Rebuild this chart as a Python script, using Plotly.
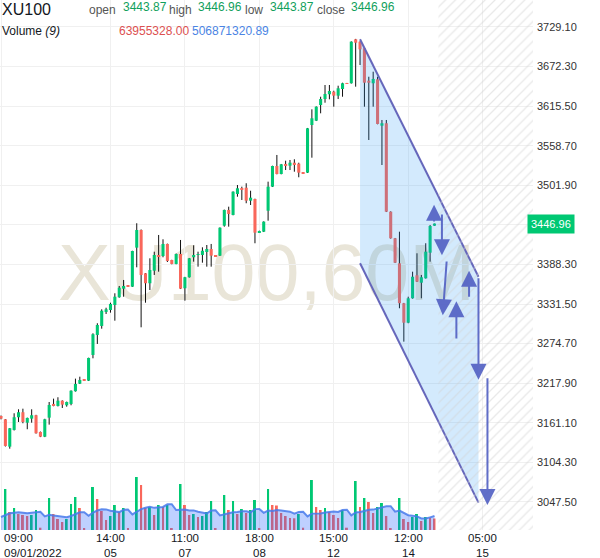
import plotly.graph_objects as go

# ---------------- data ----------------
symbol = "XU100"
watermark_text = "XU100,60M"

# hourly candles, index 0 = 09:00 09/01/2022 (10 candles per session day)
opens = [3170.8, 3166.1, 3126.8, 3150.8, 3169.0, 3176.2, 3161.2, 3167.0, 3171.9, 3147.9,
         3141.1, 3168.4, 3188.1, 3185.2, 3192.8, 3186.2, 3188.1, 3206.3, 3217.2, 3222.5,
         3221.5, 3258.4, 3287.1, 3300.0, 3320.1, 3322.9, 3330.1, 3341.2, 3353.5, 3357.4,
         3356.4, 3412.4, 3437.7, 3375.6, 3361.3, 3379.3, 3401.9, 3400.4, 3417.7, 3394.7,
         3389.0, 3403.3, 3354.1, 3369.9, 3398.6, 3401.9, 3401.9, 3406.2, 3410.5, 3400.9,
         3400.9, 3443.9, 3466.5, 3459.3, 3489.4, 3497.6, 3498.4, 3479.8, 3482.2, 3433.9,
         3435.3, 3465.4, 3499.9, 3529.6, 3518.1, 3532.5, 3530.0, 3534.3, 3532.9, 3520.0,
         3520.0, 3588.4, 3594.6, 3617.1, 3625.7, 3632.5, 3636.2, 3630.5, 3640.1, 3648.3,
         3648.3, 3711.4, 3708.0, 3698.5, 3652.0, 3648.3, 3654.0, 3587.4, 3590.9, 3464.0,
         3425.8, 3389.9, 3332.6, 3304.7, 3339.7, 3372.7, 3362.1, 3368.4, 3405.2, 3443.87]
highs = [3171.5, 3166.5, 3153.5, 3174.7, 3180.4, 3181.3, 3168.5, 3180.4, 3172.5, 3148.5,
         3166.8, 3190.9, 3195.7, 3197.7, 3193.3, 3191.5, 3207.6, 3224.4, 3227.2, 3223.0,
         3254.5, 3289.5, 3303.9, 3323.9, 3326.2, 3333.4, 3346.9, 3357.4, 3366.0, 3358.0,
         3408.0, 3447.4, 3438.5, 3376.0, 3397.1, 3406.6, 3430.6, 3424.4, 3418.2, 3395.0,
         3404.0, 3423.4, 3370.5, 3397.6, 3415.8, 3406.6, 3412.9, 3416.2, 3417.7, 3401.5,
         3441.5, 3467.0, 3471.2, 3493.2, 3502.3, 3499.9, 3504.8, 3494.1, 3482.7, 3436.8,
         3450.2, 3507.1, 3530.0, 3545.4, 3532.5, 3537.2, 3538.2, 3539.2, 3534.3, 3520.5,
         3584.2, 3610.9, 3615.2, 3629.0, 3645.8, 3645.8, 3637.6, 3644.8, 3649.1, 3648.8,
         3708.5, 3712.0, 3708.5, 3699.0, 3657.7, 3664.9, 3657.7, 3595.6, 3595.6, 3464.5,
         3426.3, 3435.3, 3333.1, 3342.0, 3377.9, 3404.3, 3373.2, 3418.7, 3444.9, 3446.96]
lows = [3166.0, 3127.0, 3123.9, 3150.0, 3162.2, 3160.4, 3151.8, 3161.2, 3145.5, 3140.5,
        3140.5, 3158.4, 3184.8, 3184.5, 3182.3, 3184.2, 3186.2, 3205.8, 3216.7, 3221.0,
        3221.0, 3253.6, 3274.2, 3296.1, 3317.2, 3319.1, 3307.6, 3340.5, 3342.0, 3356.5,
        3356.0, 3384.2, 3298.1, 3333.4, 3351.6, 3373.2, 3377.9, 3398.6, 3391.8, 3388.5,
        3388.5, 3353.0, 3336.3, 3369.4, 3392.3, 3385.1, 3390.8, 3385.1, 3385.1, 3400.0,
        3400.4, 3442.5, 3442.5, 3458.8, 3485.5, 3480.8, 3476.1, 3473.6, 3418.7, 3433.4,
        3434.8, 3451.1, 3499.4, 3517.6, 3517.6, 3523.8, 3523.8, 3521.4, 3513.4, 3519.0,
        3519.5, 3541.5, 3594.1, 3605.2, 3620.4, 3625.3, 3614.7, 3625.7, 3629.0, 3647.3,
        3647.8, 3643.4, 3674.5, 3614.7, 3566.9, 3614.7, 3589.4, 3531.0, 3463.5, 3425.3,
        3390.3, 3325.4, 3277.5, 3303.9, 3339.2, 3363.1, 3339.7, 3368.0, 3392.3, 3443.87]
closes = [3167.0, 3127.8, 3153.2, 3169.0, 3176.2, 3162.2, 3168.0, 3171.9, 3146.0, 3141.1,
          3166.1, 3186.6, 3185.2, 3192.8, 3187.1, 3190.9, 3207.1, 3216.8, 3222.5, 3221.5,
          3254.1, 3288.1, 3301.4, 3321.9, 3323.9, 3331.6, 3342.0, 3355.0, 3357.4, 3357.0,
          3407.6, 3437.7, 3373.2, 3361.3, 3380.3, 3401.9, 3399.4, 3417.7, 3393.3, 3389.0,
          3403.3, 3353.5, 3369.9, 3397.1, 3401.9, 3402.5, 3408.0, 3410.5, 3400.9, 3400.4,
          3441.0, 3466.5, 3460.7, 3492.7, 3497.6, 3496.5, 3479.8, 3484.1, 3433.9, 3436.3,
          3449.7, 3499.9, 3529.6, 3518.1, 3532.0, 3530.0, 3534.3, 3531.5, 3520.0, 3519.5,
          3583.7, 3598.0, 3614.7, 3625.7, 3632.9, 3637.2, 3630.5, 3641.1, 3648.3, 3647.8,
          3708.0, 3706.5, 3697.0, 3649.1, 3649.1, 3654.5, 3589.9, 3590.9, 3464.0, 3425.8,
          3390.8, 3332.6, 3304.7, 3339.7, 3370.7, 3363.6, 3369.9, 3406.6, 3443.5, 3446.96]

# volume (millions) and its 9-period moving average as drawn
volumes_m = [0, 228.0, 100.1, 122.3, 89.0, 83.4, 77.8, 83.4, 111.2, 12.8,
             0, 177.9, 89.0, 61.2, 44.5, 61.2, 144.6, 183.5, 122.3, 7.2,
             0, 239.1, 172.4, 105.6, 55.6, 77.8, 139.0, 100.1, 122.3, 7.2,
             0, 294.7, 250.2, 122.3, 127.9, 83.4, 139.0, 129.5, 139.0, 7.2,
             0, 255.8, 139.0, 83.4, 89.0, 72.3, 77.8, 100.1, 161.2, 7.2,
             0, 194.6, 111.2, 161.2, 89.0, 116.8, 94.5, 111.2, 166.8, 7.2,
             0, 228.0, 139.0, 136.2, 94.5, 77.8, 66.7, 65.1, 89.0, 12.8,
             0, 278.0, 127.9, 111.2, 122.3, 100.1, 83.4, 66.7, 111.2, 12.8,
             0, 272.4, 127.9, 177.9, 155.7, 94.5, 127.9, 150.1, 77.8, 7.2,
             0, 177.9, 61.2, 44.5, 72.3, 89.0, 50.0, 72.3, 66.7, 63.96]
volume_ma_m = [72.3, 83.4, 92.9, 96.2, 98.4, 96.2, 92.9, 96.2, 99.5, 100.9,
               75.6, 84.2, 80.5, 77.4, 73.1, 71.2, 78.0, 86.1, 98.2, 99.0,
               79.3, 96.0, 108.3, 115.1, 114.5, 107.1, 102.1, 99.6, 112.4, 113.3,
               86.7, 100.2, 116.3, 123.8, 129.3, 123.1, 127.4, 128.3, 142.9, 143.7,
               111.0, 111.6, 113.4, 108.5, 109.1, 101.7, 96.0, 91.6, 108.8, 109.5,
               81.1, 87.3, 90.4, 98.4, 100.2, 104.6, 104.0, 98.4, 116.1, 116.9,
               95.3, 108.3, 105.8, 111.1, 108.6, 106.8, 101.8, 90.5, 99.6, 101.0,
               75.7, 91.1, 90.2, 92.1, 97.0, 100.7, 102.7, 100.2, 111.2, 112.6,
               81.7, 97.8, 99.6, 105.8, 112.0, 113.3, 120.0, 124.4, 131.6, 132.4,
               102.1, 107.7, 94.7, 82.3, 79.9, 75.6, 64.4, 63.8, 70.4, 77.5]

tick_index = [0, 25, 42, 59, 76, 93, 110]
tick_time = ["09:00", "14:00", "11:00", "18:00", "15:00", "12:00", "05:00"]
tick_date = ["09/01/2022", "05", "07", "08", "12", "14", "15"]
price_ticks = [3047.50, 3104.30, 3161.10, 3217.90, 3274.70, 3331.50, 3388.30,
               3445.10, 3501.90, 3558.70, 3615.50, 3672.30, 3729.10]

header_labels = ["open", "high", "low", "close"]
header_values = ["3443.87", "3446.96", "3443.87", "3446.96"]
volume_header_values = ["63955328.00", "506871320.89"]

# user drawing: falling channel + arrows, in (bar index, price)
channel_x = [82.0, 109.05]
channel_upper = [3711.4, 3370.7]
channel_lower = [3390.0, 3046.4]
arrow_tail_x = [98.9, 100.7, 101.8, 104.0, 106.9, 109.05, 111.1]
arrow_tail_y = [3447.8, 3462.1, 3394.7, 3279.9, 3339.7, 3370.7, 3227.2]
arrow_head_x = [98.9, 100.7, 100.9, 104.0, 106.9, 109.05, 111.1]
arrow_head_y = [3474.0, 3401.5, 3315.5, 3335.3, 3379.3, 3223.0, 3043.0]

# ---------------- styling ----------------
FONT = "Liberation Sans, Arial, Helvetica, sans-serif"
GREEN = "#00c873"
RED = "#f9675b"
TXT_GREEN = "#11a05c"
LINE = "#6667bb"
ARROW = "rgba(84,98,196,0.92)"
GRID = "#f0f0f0"
x_range = [-0.23, 121.5]
price_range = [3007.2, 3767.8]
volume_range = [0, 2946.8]
PLOT_W, PLOT_H = 533, 530

idx = list(range(len(closes)))
fig = go.Figure()

# wicks
wx, wy = [], []
for i, (h, l) in enumerate(zip(highs, lows)):
    wx += [i, i, None]
    wy += [l, h, None]
fig.add_trace(go.Scatter(x=wx, y=wy, mode="lines", line=dict(color="#111111", width=1),
                         hoverinfo="skip"))

# bodies
body_base = [min(o, c) for o, c in zip(opens, closes)]
body_len = [abs(c - o) for o, c in zip(opens, closes)]
body_col = [GREEN if c >= o else RED for o, c in zip(opens, closes)]
fig.add_trace(go.Bar(x=idx, y=body_len, base=body_base, width=0.7,
                     marker=dict(color=body_col, line=dict(width=0)), yaxis="y2"))

# volume
vol_col = [GREEN if i == 0 or volumes_m[i] >= volumes_m[i - 1] else RED for i in idx]
fig.add_trace(go.Bar(x=idx, y=volumes_m, width=0.45,
                     marker=dict(color=vol_col, line=dict(width=0)), yaxis="y3"))
fig.add_trace(go.Scatter(x=idx, y=volume_ma_m, mode="lines", fill="tozeroy",
                         fillcolor="rgba(41,98,255,0.3)",
                         line=dict(color="rgba(72,122,235,0.85)", width=2), yaxis="y3"))

# channel drawing
fig.add_trace(go.Scatter(
    x=[channel_x[0], channel_x[1], channel_x[1], channel_x[0]],
    y=[channel_upper[0], channel_upper[1], channel_lower[1], channel_lower[0]],
    fill="toself", fillcolor="rgba(33,150,243,0.2)", mode="none", yaxis="y4"))
fig.add_trace(go.Scatter(x=channel_x, y=channel_upper, mode="lines",
                         line=dict(color=LINE, width=2), yaxis="y4"))
fig.add_trace(go.Scatter(x=channel_x, y=channel_lower, mode="lines",
                         line=dict(color=LINE, width=2), yaxis="y4"))

# future (hatched) zone
fx0 = idx[-1] + 0.9
fig.add_trace(go.Scatter(
    x=[fx0, x_range[1], x_range[1], fx0],
    y=[price_range[0], price_range[0], price_range[1], price_range[1]],
    fill="toself", mode="none", fillcolor="rgba(0,0,0,0)",
    fillpattern=dict(shape="/", fgcolor="#d2d2d2", bgcolor="rgba(0,0,0,0)",
                     size=7, solidity=0.18),
    yaxis="y4"))

# arrows
for xt, yt, xh, yh in zip(arrow_tail_x, arrow_tail_y, arrow_head_x, arrow_head_y):
    fig.add_annotation(x=xh, y=yh, ax=xt, ay=yt, xref="x", yref="y", axref="x", ayref="y",
                       text="", showarrow=True, arrowhead=2, arrowsize=1.6,
                       arrowwidth=2, arrowcolor=ARROW)

# watermark
fig.add_shape(type="rect", xref="paper", yref="paper", x0=0, x1=1, y0=0, y1=1,
              line=dict(width=0), fillcolor="rgba(0,0,0,0)", layer="below",
              label=dict(text=watermark_text, textposition="middle center",
                         font=dict(family=FONT, size=79, color="#e9e5d8")))

# last price label
fig.add_annotation(xref="paper", x=1, xanchor="left", xshift=-6, yref="y", y=closes[-1],
                   text=f"{closes[-1]:.2f}", showarrow=False, bgcolor=GREEN,
                   font=dict(family=FONT, size=11, color="white"), borderpad=3)

# x tick labels (two-line)
for k, (ti, tt, td) in enumerate(zip(tick_index, tick_time, tick_date)):
    anchor = "left" if k == 0 else "center"
    xs = 1 if k == 0 else 0
    fig.add_annotation(x=ti, xref="x", y=0, yref="paper", yanchor="top", yshift=0,
                       xanchor=anchor, xshift=xs, align=anchor, text=f"{tt}<br>{td}",
                       showarrow=False, font=dict(family=FONT, size=11.5, color="#131722"))


def px(v):
    return v / PLOT_W


def py(v):
    return 1 - v / PLOT_H


def header(text, x, y, size=12, color="#131722"):
    fig.add_annotation(xref="paper", yref="paper", x=px(x), y=py(y), xanchor="left",
                       yanchor="middle", text=text, showarrow=False,
                       font=dict(family=FONT, size=size, color=color))


header(symbol, 0, 9.5, size=16)
label_x = [87, 167, 243, 315]
value_x = [121, 196, 268, 349]
for lab, val, lx, vx in zip(header_labels, header_values, label_x, value_x):
    header(lab, lx, 10, color="#555555")
    header(val, vx, 7, color=TXT_GREEN)
header("Volume <i>(9)</i>", 0, 31)
header(volume_header_values[0], 117, 30.5, color="#dc5050")
header(volume_header_values[1], 190, 30.5, color="#4a84e4")

# hidden tick behind the last-price label keeps its gridline only
tick_text = ["" if abs(v - closes[-1]) < 5 else f"{v:.2f}" for v in price_ticks]

fig.update_layout(
    width=600, height=558, margin=dict(l=0, r=67, t=0, b=28),
    paper_bgcolor="white", plot_bgcolor="white", showlegend=False,
    barmode="overlay", hovermode=False,
    xaxis=dict(range=x_range, tickvals=tick_index, showticklabels=False, showgrid=True,
               gridcolor=GRID, zeroline=False, showline=False, ticks=""),
    yaxis=dict(side="right", range=price_range, tickvals=price_ticks,
               ticktext=tick_text, showgrid=True, gridcolor=GRID,
               zeroline=False, showline=False, ticks="", ticklabelstandoff=3,
               tickfont=dict(family=FONT, size=11, color="#333333")),
    yaxis2=dict(overlaying="y", anchor="x", range=price_range, visible=False),
    yaxis3=dict(overlaying="y", anchor="x", range=volume_range, visible=False),
    yaxis4=dict(overlaying="y", anchor="x", range=price_range, visible=False),
)

fig.write_html("out.html", config={"displayModeBar": False},
               post_script="document.body.style.margin='0';document.body.style.overflow='hidden';")
